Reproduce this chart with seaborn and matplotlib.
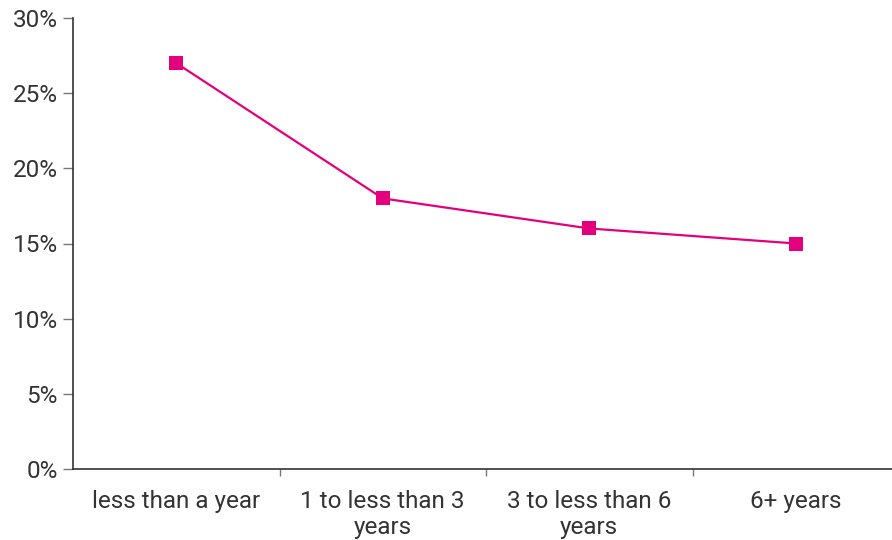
import numpy as np
import pandas as pd
import matplotlib
matplotlib.use("Agg")
import matplotlib.pyplot as plt
import seaborn as sns

categories = ["less than a year", "1 to less than 3\nyears", "3 to less than 6\nyears", "6+ years"]
shares = [27, 18, 16, 15]

data = pd.DataFrame({"tenure": categories, "share": shares, "pos": np.arange(len(categories))})

sns.set_style("white")
plt.rcParams["font.family"] = ["Roboto", "DejaVu Sans"]

fig = plt.figure(figsize=(8.92, 5.4), dpi=100)
ax = fig.add_axes([73 / 892, 71 / 540, 826 / 892, 451 / 540])

sns.lineplot(data=data, x="pos", y="share", marker="s", color="#E4007C",
             linewidth=1.6, markersize=10, markeredgewidth=0, ax=ax)

ax.set_xlim(-0.5, 3.5)
ax.set_ylim(0, 30)
ax.set_yticks(range(0, 31, 5))
ax.set_yticklabels([f"{v}%" for v in range(0, 31, 5)])
ax.set_xticks(data["pos"])
ax.set_xticklabels(categories, linespacing=1.2)
ax.set_xticks([0.5, 1.5, 2.5], minor=True)
ax.tick_params(axis="x", which="major", length=0, pad=15, bottom=True)
ax.tick_params(axis="x", which="minor", length=5, width=1, color="#777777",
               direction="out", bottom=True)
ax.tick_params(axis="y", length=7, width=1, color="#777777", direction="out",
               pad=4, left=True)
ax.tick_params(labelsize=17.5, labelcolor="#333333")
ax.set_xlabel("")
ax.set_ylabel("")

for side in ["top", "right"]:
    ax.spines[side].set_visible(False)
for side in ["left", "bottom"]:
    ax.spines[side].set_color("#333333")
    ax.spines[side].set_linewidth(1.2)

fig.savefig("out.png", dpi=100)
